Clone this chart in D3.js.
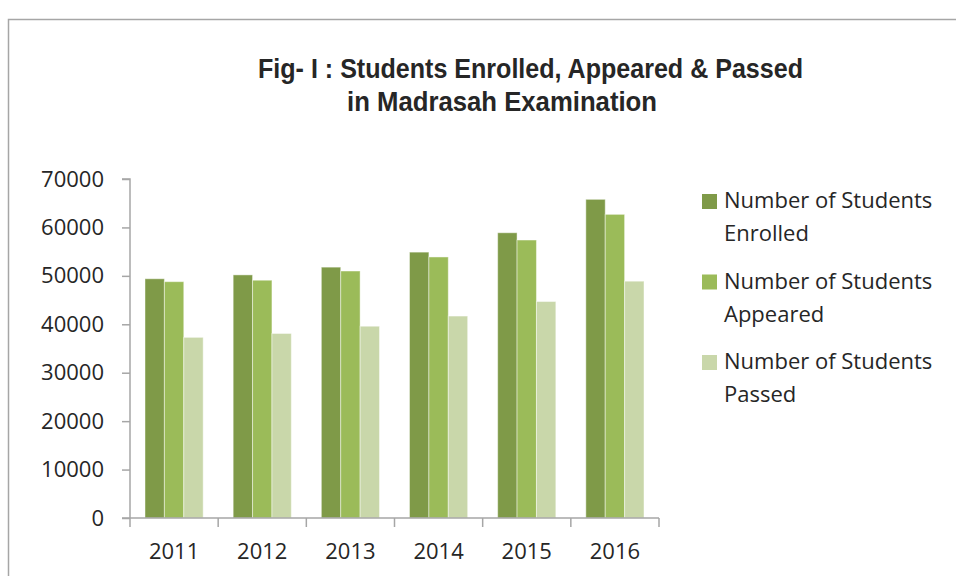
<!DOCTYPE html>
<html>
<head>
<meta charset="utf-8">
<script src="https://cdn.jsdelivr.net/npm/d3@7"></script>
<style>
  body { margin: 0; background: #fff; }
  text { font-family: "Open Sans", sans-serif; fill: #262626; }
  .title { font-family: "Liberation Sans", Arial, sans-serif; font-weight: bold; font-size: 28px; }
</style>
</head>
<body>
<svg id="chart" width="956" height="576"></svg>
<script>
const years = ['2011', '2012', '2013', '2014', '2015', '2016'];
const enrolled = [49400, 50200, 51800, 54900, 58900, 65800];
const appeared = [48800, 49100, 51000, 53900, 57400, 62700];
const passed = [37300, 38100, 39600, 41700, 44700, 48900];
const seriesNames = ['Number of Students Enrolled', 'Number of Students Appeared', 'Number of Students Passed'];
const yTicks = [0, 10000, 20000, 30000, 40000, 50000, 60000, 70000];

const series = [enrolled, appeared, passed];
const colors = ['#7f9a48', '#9bbb59', '#c9d7aa'];

const svg = d3.select('#chart');

// outer frame (top and left edges visible)
svg.append('path')
  .attr('d', 'M8.5,576 V19.5 H956')
  .attr('fill', 'none')
  .attr('stroke', '#a6a6a6')
  .attr('stroke-width', 1.5);

// title, squeezed to look condensed
const title = svg.append('g');
title.append('text').attr('class', 'title')
  .attr('x', 258).attr('y', 78)
  .attr('textLength', 545)
  .attr('lengthAdjust', 'spacingAndGlyphs')
  .text('Fig- I : Students Enrolled, Appeared & Passed');
title.append('text').attr('class', 'title')
  .attr('x', 347).attr('y', 111)
  .attr('textLength', 310)
  .attr('lengthAdjust', 'spacingAndGlyphs')
  .text('in Madrasah Examination');

const xscale = d3.scaleBand()
  .domain(years)
  .range([130, 659])
  .padding(0);

const inner = d3.scaleBand()
  .domain(d3.range(series.length))
  .range([15, xscale.bandwidth() - 15])
  .padding(0);

const yscale = d3.scaleLinear()
  .domain([0, 70000])
  .range([518, 179]);

// bars
const groups = svg.append('g')
  .selectAll('g')
  .data(series)
  .enter()
  .append('g')
  .attr('fill', (d, i) => colors[i]);

groups.selectAll('rect')
  .data((d) => d)
  .enter()
  .append('rect')
  .attr('x', function (d, j) {
    const si = series.indexOf(d3.select(this.parentNode).datum());
    return xscale(years[j]) + inner(si);
  })
  .attr('y', (d) => yscale(d))
  .attr('width', inner.bandwidth())
  .attr('height', (d) => yscale(0) - yscale(d))
  .attr('stroke', 'rgba(255,255,255,0.45)')
  .attr('stroke-width', 1);

// y axis
const leftAxis = d3.axisLeft(yscale)
  .tickValues(yTicks)
  .tickFormat(d3.format('d'))
  .tickSize(8)
  .tickPadding(18);
const gy = svg.append('g')
  .attr('transform', 'translate(130, 0)')
  .call(leftAxis);

// x axis
const bottomAxis = d3.axisBottom(xscale)
  .tickSize(0)
  .tickPadding(25);
const gx = svg.append('g')
  .attr('transform', 'translate(0, 518)')
  .call(bottomAxis);

// category boundary ticks
svg.append('g')
  .selectAll('line')
  .data(years.concat(['end']))
  .enter()
  .append('line')
  .attr('x1', (d, i) => i < years.length ? xscale(d) : xscale.range()[1])
  .attr('x2', (d, i) => i < years.length ? xscale(d) : xscale.range()[1])
  .attr('y1', 518)
  .attr('y2', 527)
  .attr('stroke', '#a6a6a6')
  .attr('stroke-width', 1.5);

[gx, gy].forEach((g) => {
  g.select('.domain').attr('stroke', '#a6a6a6').attr('stroke-width', 1.5);
  g.selectAll('.tick line').attr('stroke', '#a6a6a6').attr('stroke-width', 1.5);
  g.selectAll('.tick text')
    .style('font-family', '"Open Sans", sans-serif')
    .style('font-size', '22px')
    .attr('fill', '#262626');
});
gy.select('.domain').attr('d', 'M0,518V179H-8');
gx.select('.domain').attr('d', 'M122,0H659');

// legend
const legend = svg.append('g')
  .selectAll('g')
  .data(seriesNames)
  .enter()
  .append('g')
  .attr('transform', (d, i) => `translate(702, ${194 + i * 80.5})`);

legend.append('rect')
  .attr('width', 15)
  .attr('height', 15)
  .attr('fill', (d, i) => colors[i]);

legend.append('text')
  .style('font-size', '22px')
  .attr('x', 22)
  .attr('y', 14)
  .selectAll('tspan')
  .data((d) => ['Number of Students', d.replace('Number of Students ', '')])
  .enter()
  .append('tspan')
  .attr('x', 22)
  .attr('dy', (d, i) => i === 0 ? 0 : 33)
  .text((d) => d);
</script>
</body>
</html>
